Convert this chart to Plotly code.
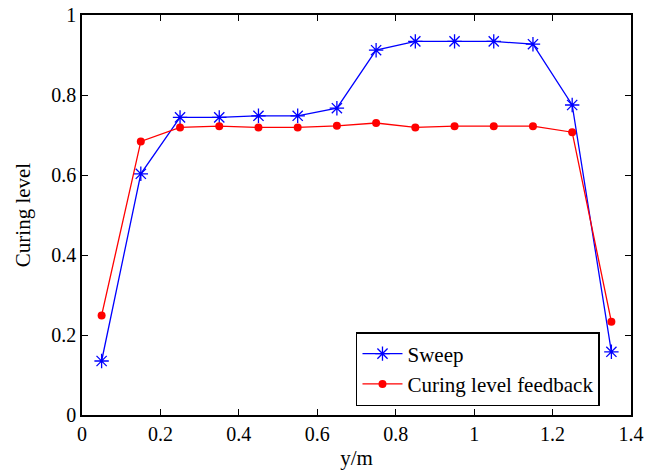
import plotly.graph_objects as go

x_vals = [0.05, 0.15, 0.25, 0.35, 0.45, 0.55, 0.65, 0.75, 0.85, 0.95, 1.05, 1.15, 1.25, 1.35]
sweep = [0.135, 0.603, 0.744, 0.744, 0.748, 0.748, 0.767, 0.912, 0.934, 0.934, 0.934, 0.927, 0.775, 0.158]
feedback = [0.249, 0.684, 0.719, 0.722, 0.719, 0.719, 0.723, 0.730, 0.719, 0.722, 0.722, 0.722, 0.707, 0.233]

x_ticks = [0, 0.2, 0.4, 0.6, 0.8, 1, 1.2, 1.4]
y_ticks = [0, 0.2, 0.4, 0.6, 0.8, 1]

font_family = "Liberation Serif, Times New Roman, serif"
tick_fs = 20
text_fs = 21

fig = go.Figure()
fig.add_trace(go.Scatter(
    x=x_vals, y=sweep, name="Sweep", mode="lines+markers",
    line=dict(color="#0000ff", width=1.3),
    marker=dict(symbol="asterisk-open", size=12, color="#0000ff",
                line=dict(color="#0000ff", width=1.3)),
))
fig.add_trace(go.Scatter(
    x=x_vals, y=feedback, name="Curing level feedback", mode="lines+markers",
    line=dict(color="#ff0000", width=1.3),
    marker=dict(symbol="circle", size=8, color="#ff0000"),
))

axis_common = dict(
    showline=True, linecolor="black", linewidth=1.5, mirror="ticks",
    ticks="inside", ticklen=6, tickwidth=1, tickcolor="black",
    showgrid=False, zeroline=False, automargin=False,
    tickfont=dict(family=font_family, size=tick_fs, color="black"),
)

fig.update_layout(
    width=658, height=470,
    margin=dict(l=82, r=27, t=15, b=55),
    paper_bgcolor="white", plot_bgcolor="white",
    font=dict(family=font_family, size=text_fs, color="black"),
    xaxis=dict(range=[0, 1.4], tickvals=x_ticks, ticktext=[f"{v:g}" for v in x_ticks],
               title=dict(text="y/m", font=dict(family=font_family, size=text_fs)),
               **axis_common),
    yaxis=dict(range=[0, 1], tickvals=y_ticks, ticktext=[f"{v:g}" for v in y_ticks],
               title=dict(text="Curing level", font=dict(family=font_family, size=text_fs)),
               **axis_common),
    legend=dict(x=0.9435, y=0.0225, xanchor="right", yanchor="bottom",
                bgcolor="white", bordercolor="black", borderwidth=1.5,
                font=dict(family=font_family, size=text_fs, color="black"),
                itemwidth=40, tracegroupgap=0),
    showlegend=True,
)

fig.write_html("out.html", config={"displayModeBar": False},
               post_script="document.body.style.margin='0';")
